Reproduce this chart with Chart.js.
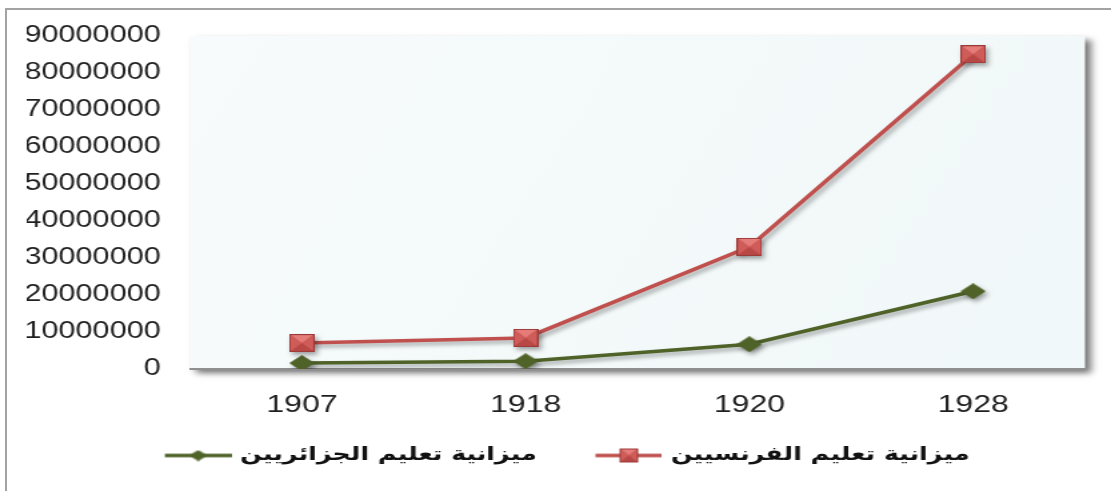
<!DOCTYPE html>
<html>
<head>
<meta charset="utf-8">
<script src="https://cdn.jsdelivr.net/npm/chart.js@4"></script>
<style>
  html, body { margin: 0; padding: 0; background: #fff; overflow: hidden; }
  #frame { position: absolute; left: 5px; top: 8px; width: 1200px; height: 600px;
           border-left: 2px solid #a3a3a3; border-top: 2px solid #a3a3a3; }
  /* the reference is stretched sideways, so draw narrow and widen */
  #wrap { position: absolute; left: 0; top: 0; width: 833px; height: 491px;
          transform: scaleX(1.3337); transform-origin: 0 0; }
</style>
</head>
<body>
<div id="frame"></div>
<div id="wrap"><canvas id="chart"></canvas></div>
<script>
const years = ['1907', '1918', '1920', '1928'];
const frenchBudget = [7000000, 8400000, 33000000, 85000000];
const algerianBudget = [1600000, 2100000, 6700000, 21000000];
const frenchLabel = 'ميزانية تعليم الفرنسيين';
const algerianLabel = 'ميزانية تعليم الجزائريين';
const yMax = 90000000;
const yStep = 10000000;

const RED = '#c0504d';
const GREEN = '#4f6228';

// marker pictures
function squareMarker(w, h) {
  const c = document.createElement('canvas');
  c.width = w; c.height = h;
  const g = c.getContext('2d');
  g.fillStyle = '#b84845'; g.fillRect(0, 0, w, h);
  g.fillStyle = '#e57c7a';
  g.beginPath(); g.moveTo(0, 0); g.lineTo(w, 0); g.lineTo(w / 2, h / 2); g.closePath(); g.fill();
  g.fillStyle = '#cf5c59';
  g.beginPath(); g.moveTo(0, 0); g.lineTo(w / 2, h / 2); g.lineTo(0, h); g.closePath(); g.fill();
  g.beginPath(); g.moveTo(w, 0); g.lineTo(w / 2, h / 2); g.lineTo(w, h); g.closePath(); g.fill();
  g.strokeStyle = '#9c3a38'; g.lineWidth = 1; g.strokeRect(0.5, 0.5, w - 1, h - 1);
  return c;
}
function diamondMarker(w, h) {
  const c = document.createElement('canvas');
  c.width = w; c.height = h;
  const g = c.getContext('2d');
  g.fillStyle = GREEN;
  g.beginPath(); g.moveTo(w / 2, 0); g.lineTo(w, h / 2); g.lineTo(w / 2, h); g.lineTo(0, h / 2); g.closePath(); g.fill();
  return c;
}
// legend sample: 70 wide, drawn over a 64 wide slot, line on the right 50px
function legendPicture(color, marker) {
  const c = document.createElement('canvas');
  c.width = 70; c.height = 20;
  const g = c.getContext('2d');
  g.strokeStyle = color; g.lineWidth = 3.5;
  g.beginPath(); g.moveTo(20, 10); g.lineTo(70, 10); g.stroke();
  g.drawImage(marker, 45 - marker.width / 2, 10 - marker.height / 2);
  return c;
}

const redMark = squareMarker(19, 18);
const greenMark = diamondMarker(19, 16);
const smallRed = squareMarker(14, 14);
const smallGreen = diamondMarker(14, 11);

const plotBack = {
  id: 'plotBack',
  beforeDraw(chart) {
    const { ctx, chartArea: a } = chart;
    ctx.save();
    ctx.shadowColor = 'rgba(0,0,0,0.55)';
    ctx.shadowBlur = 6;
    ctx.shadowOffsetX = 4;
    ctx.shadowOffsetY = 4;
    const grad = ctx.createLinearGradient(a.left, a.top, a.right, a.bottom);
    grad.addColorStop(0, '#f7fbfb');
    grad.addColorStop(1, '#f1f8f9');
    ctx.fillStyle = grad;
    ctx.fillRect(a.left, a.top, a.right - a.left, a.bottom - a.top);
    ctx.restore();
  },
  beforeDatasetsDraw(chart) {
    const ctx = chart.ctx;
    ctx.save();
    ctx.shadowColor = 'rgba(0,0,0,0.35)';
    ctx.shadowBlur = 4;
    ctx.shadowOffsetX = 2;
    ctx.shadowOffsetY = 3;
  },
  afterDatasetsDraw(chart) {
    chart.ctx.restore();
  }
};

new Chart(document.getElementById('chart'), {
  type: 'line',
  data: {
    labels: years,
    datasets: [
      {
        label: frenchLabel,
        data: frenchBudget,
        borderColor: RED,
        borderWidth: 3.5,
        pointStyle: redMark,
        pointRadius: 10,
        tension: 0
      },
      {
        label: algerianLabel,
        data: algerianBudget,
        borderColor: GREEN,
        borderWidth: 3.5,
        pointStyle: greenMark,
        pointRadius: 10,
        tension: 0
      }
    ]
  },
  options: {
    responsive: true,
    maintainAspectRatio: false,
    animation: false,
    layout: { padding: { top: 33, right: 19.5, bottom: 16, left: 20 } },
    scales: {
      x: {
        offset: true,
        grid: { display: false, drawTicks: false },
        border: { display: true, color: '#8f8f8f', width: 2 },
        afterFit(scale) { scale.height = 50; },
        ticks: { color: '#1f1f1f', padding: 22, font: { family: 'Liberation Sans', size: 24 } }
      },
      y: {
        min: 0,
        max: yMax,
        grid: { display: false, drawTicks: false },
        border: { display: false },
        afterFit(scale) { scale.width = 122.5; },
        ticks: {
          stepSize: yStep,
          color: '#1f1f1f',
          padding: 22,
          font: { family: 'Liberation Sans', size: 23 },
          callback: v => String(v)
        }
      }
    },
    plugins: {
      tooltip: { enabled: false },
      legend: {
        position: 'bottom',
        reverse: true,
        labels: {
          usePointStyle: true,
          pointStyleWidth: 64,
          padding: 27,
          color: '#111',
          font: { family: 'DejaVu Sans', size: 19, weight: 'bold' },
          generateLabels(chart) {
            const items = Chart.defaults.plugins.legend.labels.generateLabels(chart);
            items.forEach(it => {
              it.pointStyle = it.datasetIndex === 0 ? legendPicture(RED, smallRed) : legendPicture(GREEN, smallGreen);
            });
            return items;
          }
        }
      }
    }
  },
  plugins: [plotBack]
});
</script>
</body>
</html>
